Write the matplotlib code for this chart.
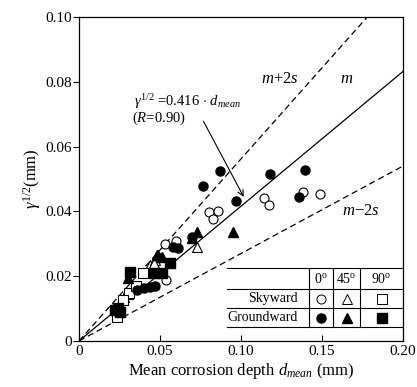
import matplotlib.pyplot as plt
import numpy as np

plt.rcParams['font.family'] = ['Liberation Serif', 'DejaVu Serif']
plt.rcParams['mathtext.fontset'] = 'custom'
plt.rcParams['mathtext.rm'] = 'Liberation Serif'
plt.rcParams['mathtext.it'] = 'Liberation Serif:italic'

# data (mean corrosion depth, gamma^1/2)
sky_0_x = [0.114, 0.117, 0.138, 0.149, 0.080, 0.086, 0.083, 0.060, 0.053, 0.054]
sky_0_y = [0.0440, 0.0420, 0.0459, 0.0453, 0.0397, 0.0400, 0.0376, 0.0310, 0.0300, 0.0188]
sky_45_x = [0.044, 0.047, 0.073, 0.046, 0.030, 0.028]
sky_45_y = [0.0234, 0.0250, 0.0290, 0.0240, 0.0145, 0.0135]
sky_90_x = [0.0395, 0.031, 0.027, 0.0235, 0.035]
sky_90_y = [0.0210, 0.0148, 0.0126, 0.0074, 0.0170]
gnd_0_x = [0.118, 0.1395, 0.097, 0.136, 0.0765, 0.087, 0.061, 0.058, 0.070, 0.040, 0.044, 0.036, 0.047]
gnd_0_y = [0.0514, 0.0527, 0.0432, 0.0444, 0.0477, 0.0524, 0.0287, 0.0290, 0.0320, 0.0163, 0.0166, 0.0158, 0.0170]
gnd_45_x = [0.095, 0.070, 0.073, 0.048, 0.051, 0.030, 0.049]
gnd_45_y = [0.0336, 0.0317, 0.0336, 0.0265, 0.0258, 0.0194, 0.0265]
gnd_90_x = [0.0315, 0.046, 0.051, 0.056, 0.024, 0.025, 0.022]
gnd_90_y = [0.0213, 0.0210, 0.0210, 0.0240, 0.0102, 0.0088, 0.0095]

slope_m = 0.416
slope_hi = 0.562
slope_lo = 0.270

fig = plt.figure(figsize=(4.17, 3.87), dpi=100)
ax = fig.add_axes([79 / 417, 46 / 387, 324 / 417, 324 / 387])

# figure caption, cut off at the top edge as in the scan
fig.text(240 / 417, 0.992, '図 6', family=['Noto Sans CJK JP'], fontsize=13,
         ha='center', va='bottom')

xx = np.array([0, 0.2])
ax.plot(xx, slope_m * xx, color='black', lw=0.9)
ax.plot(xx, slope_hi * xx, color='black', lw=0.9, dashes=(5, 3))
ax.plot(xx, slope_lo * xx, color='black', lw=0.9, dashes=(5, 3))

ms = 6.5
ax.plot(sky_0_x, sky_0_y, 'o', mfc='white', mec='black', mew=0.8, ms=ms, ls='none')
ax.plot(sky_45_x, sky_45_y, '^', mfc='white', mec='black', mew=0.8, ms=ms + 0.5, ls='none')
ax.plot(sky_90_x, sky_90_y, 's', mfc='white', mec='black', mew=0.8, ms=ms, ls='none')
ax.plot(gnd_0_x, gnd_0_y, 'o', color='black', ms=ms, ls='none')
ax.plot(gnd_45_x, gnd_45_y, '^', color='black', ms=ms + 0.5, ls='none')
ax.plot(gnd_90_x, gnd_90_y, 's', color='black', ms=ms, ls='none')

# labels on the lines
ax.text(0.124, 0.0795, '$m$+2$s$', fontsize=12, ha='center')
ax.text(0.165, 0.0795, '$m$', fontsize=12, ha='center')
ax.text(0.174, 0.039, '$m$\u22122$s$', fontsize=12, ha='center')

ax.text(0.034, 0.0725, r'$\gamma^{1/2}$ =0.416 $\cdot$ $d_{mean}$', fontsize=10.5)
ax.text(0.033, 0.0675, '($R$=0.90)', fontsize=10.5)
ax.annotate('', xy=(0.1025, 0.0437), xytext=(0.076, 0.0686),
            arrowprops=dict(arrowstyle='->', color='black', lw=0.8))

# legend table
tx0, tx1 = 0.0914, 0.20
col_x = [0.142, 0.157, 0.1735]
row_y = [0.0225, 0.0160, 0.0102, 0.0043]
for y in row_y:
    ax.plot([tx0, tx1], [y, y], color='black', lw=0.8)
for x in col_x:
    ax.plot([x, x], [row_y[0], row_y[-1]], color='black', lw=0.8)
ccx = [(col_x[0] + col_x[1]) / 2, (col_x[1] + col_x[2]) / 2, (col_x[2] + tx1) / 2]
ry = [(row_y[i] + row_y[i + 1]) / 2 for i in range(3)]
for cx, lab in zip(ccx, ['0$^{\\rm o}$', '45$^{\\rm o}$', '90$^{\\rm o}$']):
    ax.text(cx, ry[0], lab, fontsize=10, ha='center', va='center')
ax.text(0.135, ry[1], 'Skyward', fontsize=10, ha='right', va='center')
ax.text(0.135, ry[2], 'Groundward', fontsize=10, ha='right', va='center')
for cx, mk in zip(ccx, ['o', '^', 's']):
    ax.plot(cx, ry[1], mk, mfc='white', mec='black', mew=0.7, ms=6.5)
    ax.plot(cx, ry[2], mk, color='black', ms=6.5)

ax.set_xlim(0, 0.2)
ax.set_ylim(0, 0.1)
ax.set_xticks([0, 0.05, 0.10, 0.15, 0.20])
ax.set_xticklabels(['0', '0.05', '0.10', '0.15', '0.20'])
ax.set_yticks([0, 0.02, 0.04, 0.06, 0.08, 0.10])
ax.set_yticklabels(['0', '0.02', '0.04', '0.06', '0.08', '0.10'])
ax.tick_params(axis='x', direction='in', length=4, labelsize=11, pad=3)
ax.tick_params(axis='y', direction='out', length=4, labelsize=11, pad=1)
for s in ax.spines.values():
    s.set_linewidth(0.9)

ax.set_xlabel('Mean corrosion depth $d_{mean}$ (mm)', fontsize=12, labelpad=2)
ax.set_ylabel(r'$\gamma^{1/2}$(mm)', fontsize=12, labelpad=2)

fig.savefig('out.png', dpi=100)
